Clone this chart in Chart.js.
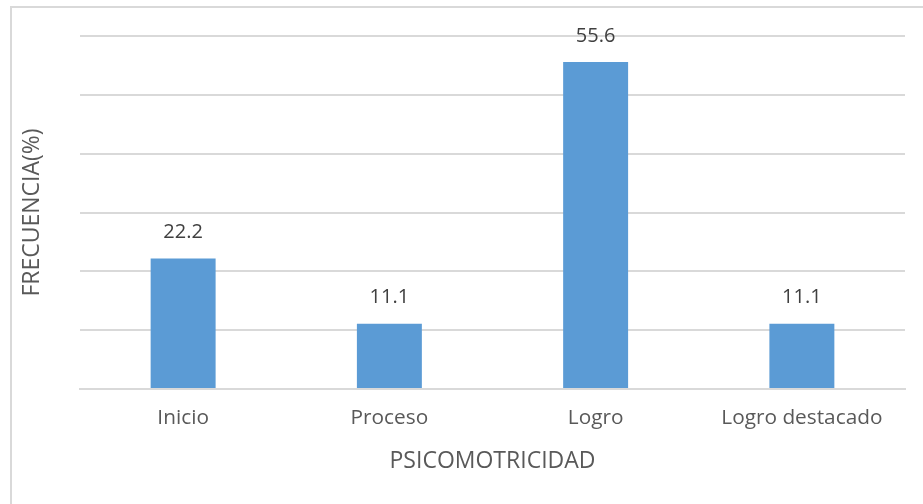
<!DOCTYPE html>
<html>
<head>
<meta charset="utf-8">
<script src="https://cdn.jsdelivr.net/npm/chart.js@4.4.0/dist/chart.umd.min.js"></script>
<style>
    html, body { margin: 0; padding: 0; background: #fff; }
    #wrap { position: relative; width: 923px; height: 504px; overflow: hidden; }
    #frame { position: absolute; left: 10px; top: 6px; width: 940px; height: 540px; border: 2px solid #d9d9d9; box-sizing: border-box; }
    canvas { position: absolute; left: 0; top: 0; }
</style>
</head>
<body>
<div id="wrap">
    <div id="frame"></div>
    <canvas id="chart" width="923" height="504"></canvas>
</div>
<script>
    const categories = ['Inicio', 'Proceso', 'Logro', 'Logro destacado'];
    const frecuencia = [22.2, 11.1, 55.6, 11.1];
    const yTicks = [0, 10, 20, 30, 40, 50, 60];

    const fontFamily = '"Open Sans", "Noto Sans", sans-serif';
    const textColor = '#595959';

    // value labels above each bar
    const barLabels = {
        id: 'barLabels',
        afterDatasetsDraw(chart) {
            const ctx = chart.ctx;
            const meta = chart.getDatasetMeta(0);
            ctx.save();
            ctx.font = '20px ' + fontFamily;
            ctx.fillStyle = '#404040';
            ctx.textAlign = 'center';
            ctx.textBaseline = 'middle';
            meta.data.forEach((bar, i) => {
                ctx.fillText(frecuencia[i].toFixed(1), bar.x, bar.y - 26);
            });
            ctx.restore();
        }
    };

    new Chart(document.getElementById('chart').getContext('2d'), {
        type: 'bar',
        data: {
            labels: categories,
            datasets: [{
                label: 'FRECUENCIA(%)',
                data: frecuencia,
                backgroundColor: '#5b9bd5',
                borderWidth: 0,
                categoryPercentage: 1,
                barPercentage: 0.315
            }]
        },
        options: {
            responsive: false,
            animation: false,
            layout: { padding: { left: 19, right: 18, top: 36, bottom: 0 } },
            plugins: {
                legend: { display: false },
                tooltip: { enabled: false }
            },
            scales: {
                x: {
                    grid: { display: false, drawTicks: false },
                    border: { display: true, color: '#d9d9d9', width: 2 },
                    ticks: { color: textColor, padding: 17, font: { family: fontFamily, size: 20.8 } },
                    title: {
                        display: true,
                        text: 'PSICOMOTRICIDAD',
                        color: textColor,
                        font: { family: fontFamily, size: 23 },
                        padding: { top: 0, bottom: 29 }
                    },
                    afterFit(scale) { scale.height = 115; }
                },
                y: {
                    min: 0,
                    max: 60,
                    afterBuildTicks(scale) { scale.ticks = yTicks.map(v => ({ value: v })); },
                    grid: { color: '#d9d9d9', lineWidth: 2, drawTicks: false },
                    border: { display: false },
                    ticks: { display: false },
                    title: {
                        display: true,
                        text: 'FRECUENCIA(%)',
                        color: textColor,
                        font: { family: fontFamily, size: 23 },
                        padding: 0
                    },
                    afterFit(scale) { scale.width = 61; }
                }
            }
        },
        plugins: [barLabels]
    });
</script>
</body>
</html>
